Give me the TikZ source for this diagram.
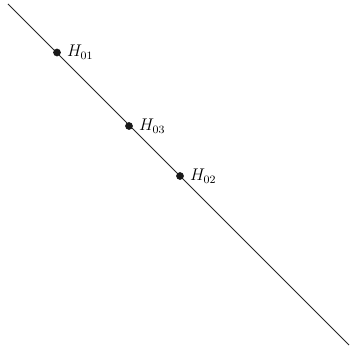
\documentclass[tikz,border=0pt]{standalone}
\usepackage{amsmath,amssymb}
\usetikzlibrary{positioning,calc}
\tikzset{
  pt/.style={circle,fill=black!90,inner sep=0pt,minimum size=5.5pt},
  lab/.style={right=3pt,inner sep=1pt,font=\large},
  ray/.style={draw=black!85,line width=0.6pt},
}
\begin{document}
\begin{tikzpicture}[x=0.025cm,y=-0.025cm]
\useasboundingbox (0,0) rectangle (350,353);
\coordinate (a) at (8,4);
\coordinate (b) at (349,345);
\draw[ray] (a) -- (b);
\node[pt] (h1) at (57,52.5) {};
\node[pt] (h3) at (129,126) {};
\node[pt] (h2) at (180,176) {};
\node[lab] (l1) at (h1.east) {$H_{01}$};
\node[lab] (l3) at (h3.east) {$H_{03}$};
\node[lab] (l2) at (h2.east) {$H_{02}$};
\end{tikzpicture}
\end{document}
